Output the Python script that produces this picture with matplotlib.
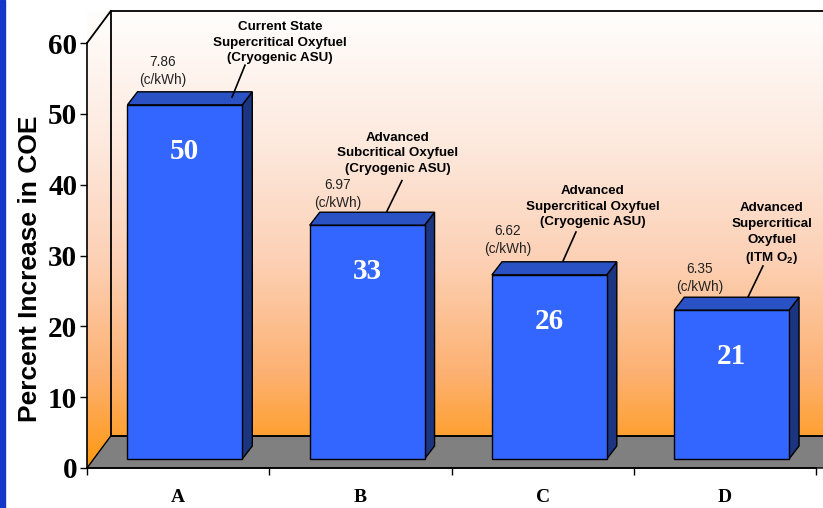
import numpy as np
import matplotlib.pyplot as plt
from matplotlib.patches import Polygon, Rectangle
from matplotlib.colors import LinearSegmentedColormap

# dados
categories = ['A', 'B', 'C', 'D']
coe_increase = [50, 33, 26, 21]
cost_labels = ['7.86', '6.97', '6.62', '6.35']
descriptions = [
    'Current State\nSupercritical Oxyfuel\n(Cryogenic ASU)',
    'Advanced\nSubcritical Oxyfuel\n(Cryogenic ASU)',
    'Advanced\nSupercritical Oxyfuel\n(Cryogenic ASU)',
    'Advanced\nSupercritical\nOxyfuel\n(ITM O$_\\mathbf{2}$)',
]

# deslocamentos dos rotulos em relacao ao topo de cada barra
cost_dx = [-0.083, -0.123, -0.19, -0.137]
cost_dy = [4.8, 4.4, 4.9, 4.55]
desc_dx = [0.559, 0.206, 0.276, 0.258]
desc_dy = [0.1, 0.8, 0.5, 0.0]
line_start = [(0.367, 5.6), (0.228, 6.3), (0.183, 6.05), (0.209, 6.25)]
line_end = [(0.296, 1.1), (0.146, 2.0), (0.112, 1.96), (0.127, 1.87)]

plt.rcParams['mathtext.fontset'] = 'custom'
plt.rcParams['mathtext.rm'] = 'Liberation Sans'
plt.rcParams['mathtext.bf'] = 'Liberation Sans:bold'

fig = plt.figure(figsize=(8.23, 5.08), dpi=100)
ax = fig.add_axes([87/823, 40/508, 729/823, 425/508])
ax.set_xlim(-0.5, 3.5)
ax.set_ylim(0, 60)

# faixa azul na borda esquerda
fig.patches.append(Rectangle((0, 0), 5/823, 1, transform=fig.transFigure,
                             color='#1537C9', zorder=0))

# profundidade do "3D" (parede/chao e barras)
wall_dx, wall_dy = 0.13, 4.5
bar_lift, bar_shift = 1.27, 0.037
bar_w = 0.63
depth_dx, depth_dy = 0.055, 1.84
x_right = 3.5 + wall_dx + 0.3

# parede de fundo + lateral com gradiente
cmap = LinearSegmentedColormap.from_list('wall', [
    (0.0, '#ff9810'), (0.2, '#fdb070'), (0.45, '#fcd0b4'),
    (0.7, '#fde8dc'), (1.0, '#fffefd')])
wall_poly = Polygon([(-0.5, 0), (-0.5 + wall_dx, wall_dy), (x_right, wall_dy),
                     (x_right, 60 + wall_dy), (-0.5 + wall_dx, 60 + wall_dy), (-0.5, 60)],
                    closed=True, facecolor='none', edgecolor='none')
ax.add_patch(wall_poly)
grad = np.linspace(0, 1, 256).reshape(-1, 1)
img = ax.imshow(grad, cmap=cmap, origin='lower', aspect='auto',
                extent=[-0.5, x_right, 0, 60 + wall_dy], zorder=0, clip_on=False)
img.set_clip_path(wall_poly)
ax.set_xlim(-0.5, 3.5)
ax.set_ylim(0, 60)

# chao cinza
floor = Polygon([(-0.5, 0), (-0.5 + wall_dx, wall_dy), (x_right, wall_dy), (x_right - wall_dx, 0)],
                closed=True, facecolor='#808080', edgecolor='black', lw=1, zorder=1, clip_on=False)
ax.add_patch(floor)

# contornos da parede
edges = [
    ([-0.5, -0.5 + wall_dx], [60, 60 + wall_dy]),
    ([-0.5 + wall_dx, -0.5 + wall_dx], [wall_dy, 60 + wall_dy]),
    ([-0.5 + wall_dx, x_right], [60 + wall_dy, 60 + wall_dy]),
    ([-0.5 + wall_dx, x_right], [wall_dy, wall_dy]),
]
for xs, ys in edges:
    ax.plot(xs, ys, color='black', lw=1.3, zorder=2, clip_on=False)

# barras
for i, v in enumerate(coe_increase):
    x0 = i + bar_shift - bar_w/2
    x1 = i + bar_shift + bar_w/2
    y0 = bar_lift
    y1 = bar_lift + v
    front = Polygon([(x0, y0), (x1, y0), (x1, y1), (x0, y1)],
                    facecolor='#3366ff', edgecolor='black', lw=1, zorder=4)
    top = Polygon([(x0, y1), (x1, y1), (x1 + depth_dx, y1 + depth_dy), (x0 + depth_dx, y1 + depth_dy)],
                  facecolor='#2a52c4', edgecolor='black', lw=1, zorder=3)
    side = Polygon([(x1, y0), (x1 + depth_dx, y0 + depth_dy), (x1 + depth_dx, y1 + depth_dy), (x1, y1)],
                   facecolor='#1c3580', edgecolor='black', lw=1, zorder=3)
    for p in (side, top, front):
        ax.add_patch(p)

    # valor dentro da barra
    ax.text(i + bar_shift, v - 5.3, str(v), ha='center', va='center', color='white',
            fontsize=21, fontweight='bold', family='Liberation Serif', zorder=5)

    # custo acima da barra
    ax.text(i + cost_dx[i], y1 + cost_dy[i], f'{cost_labels[i]}\n(c/kWh)', ha='center', va='center',
            fontsize=9.8, family='Liberation Sans', color='#222222', zorder=5,
            linespacing=1.35)

    # linha indicadora e descricao
    sx, sy = line_start[i]
    ex, ey = line_end[i]
    ax.plot([i + sx, i + ex], [y1 + sy, y1 + ey], color='black', lw=1.2, zorder=5)
    ax.text(i + desc_dx[i], y1 + sy + desc_dy[i], descriptions[i], ha='center', va='bottom',
            fontsize=9.6, fontweight='bold', family='Liberation Sans', zorder=5,
            linespacing=1.4)

# eixos
for s in ['top', 'right']:
    ax.spines[s].set_visible(False)
ax.spines['left'].set_linewidth(1.2)
ax.spines['bottom'].set_linewidth(1.2)
ax.spines['left'].set_zorder(6)
ax.spines['bottom'].set_zorder(6)

ax.set_yticks(range(0, 61, 10))
ax.set_yticklabels([str(t) for t in range(0, 61, 10)], fontsize=21, fontweight='bold',
                   family='Liberation Serif')
ax.tick_params(axis='y', length=5, width=1, pad=2)

ax.set_xticks(range(len(categories)))
ax.set_xticklabels(categories, fontsize=14, fontweight='bold', family='Liberation Serif')
ax.set_xticks(np.arange(-0.5, 3.6, 1), minor=True)
ax.tick_params(axis='x', which='major', length=0, pad=15)
ax.tick_params(axis='x', which='minor', length=5, width=1)

ax.set_ylabel('Percent Increase in COE', fontsize=19, fontweight='bold',
              family='Liberation Sans')
ax.yaxis.set_label_coords(-0.062, 0.468)

plt.savefig('out.png', dpi=100, facecolor='white')
